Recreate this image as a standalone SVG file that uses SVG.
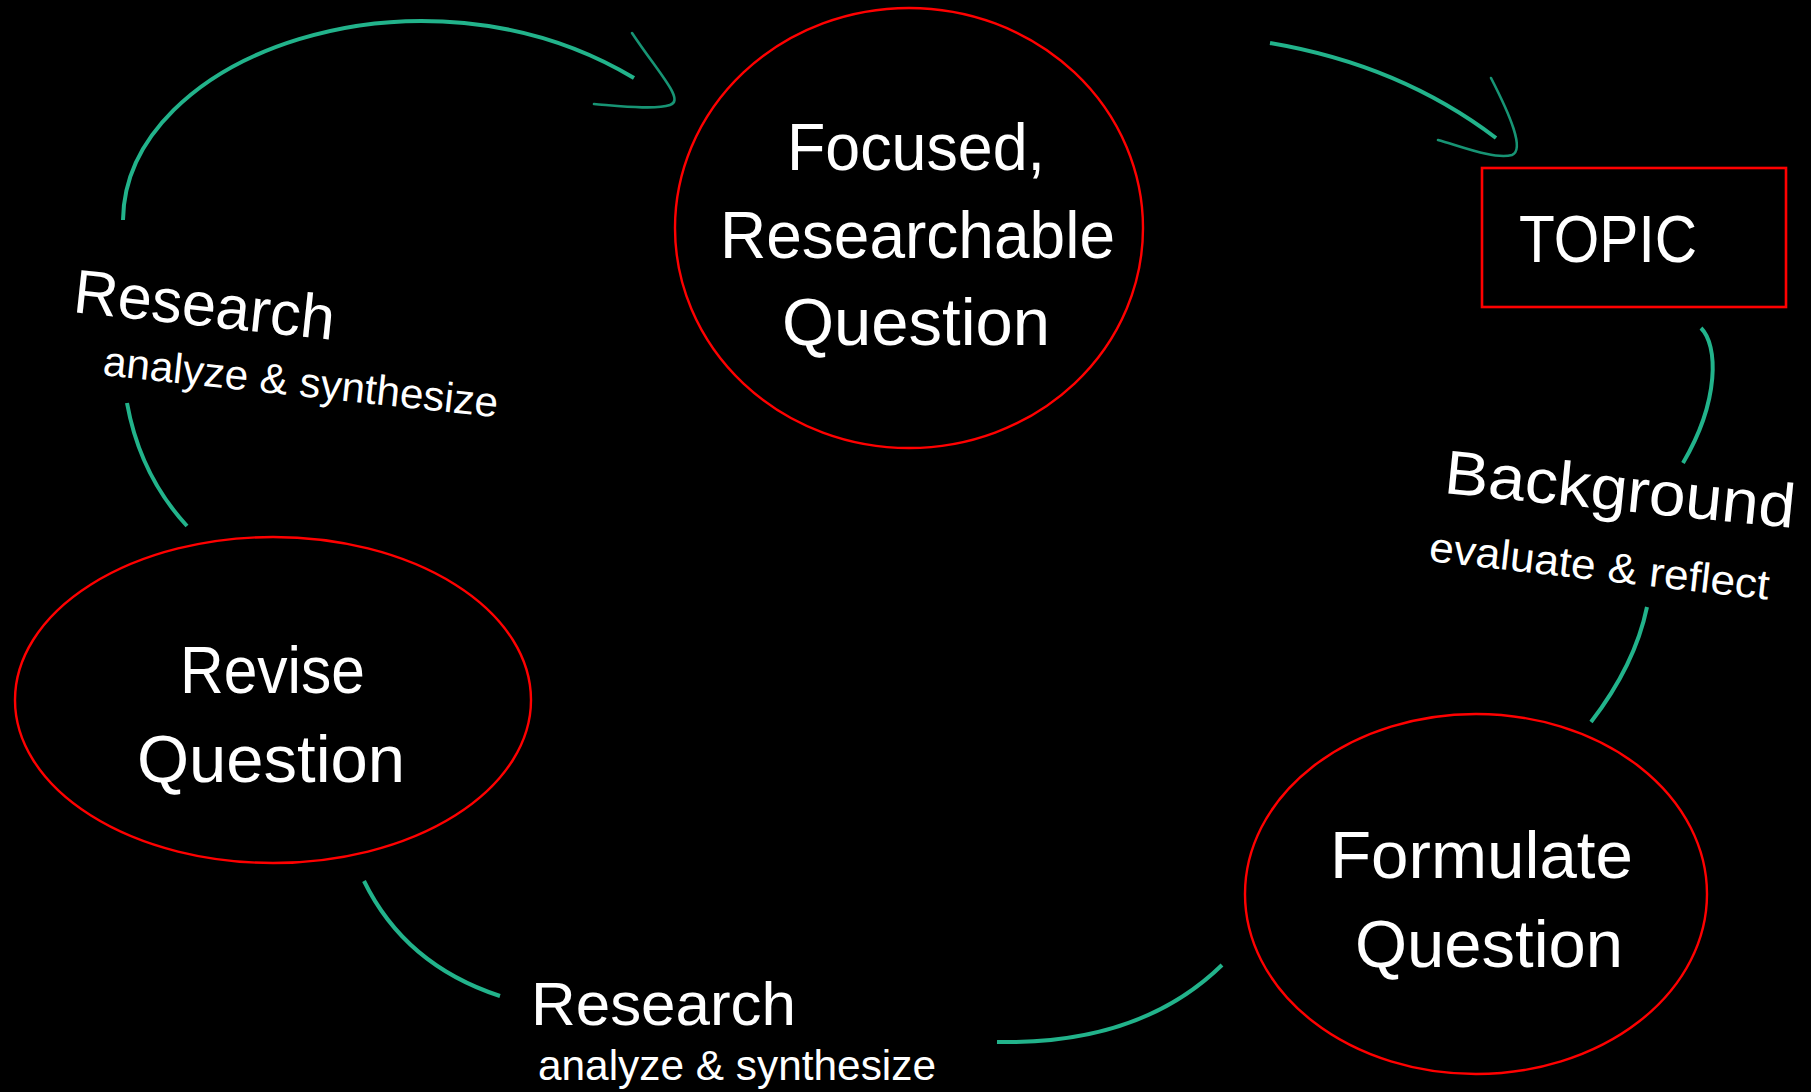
<svg xmlns="http://www.w3.org/2000/svg" width="1811" height="1092" viewBox="0 0 1811 1092">
<style>
.node{fill:#000;stroke:#ff0000;stroke-width:2.4}
.t{fill:#fff;font-family:"Liberation Sans",Arial,sans-serif}
.big{font-size:66px}
.lab{font-size:62px}
.sub{font-size:42px}
.arc{fill:none;stroke:#22b38b;stroke-width:4;stroke-linecap:butt}
.head{fill:none;stroke:#179474;stroke-width:2.6;stroke-linecap:round}
</style>
<rect x="0" y="0" width="1811" height="1092" fill="#000"/>
<g id="connectors">
<path class="arc" d="M123,220 C125,55 420,-50 634,78"/>
<path class="head" d="M632,33 C660,75 685,100 670,105 C655,110 620,106 594,104"/>
<path class="arc" d="M1270,43 Q1400,65 1496,138"/>
<path class="head" d="M1491,78 C1510,115 1525,150 1512,155 C1495,160 1460,146 1438,140"/>
<path class="arc" d="M1701,328 C1718,345 1720,400 1683,463"/>
<path class="arc" d="M1647,607 Q1635,665 1591,722"/>
<path class="arc" d="M997,1042 Q1140,1045 1222,965"/>
<path class="arc" d="M500,996 Q405,965 364,881"/>
<path class="arc" d="M187,526 Q140,475 127,403"/>
</g>
<g id="node-focused">
<ellipse class="node" cx="909" cy="228" rx="234" ry="220"/>
<text class="t big" x="787" y="170" textLength="258" lengthAdjust="spacingAndGlyphs">Focused,</text>
<text class="t big" x="720" y="258" textLength="395" lengthAdjust="spacingAndGlyphs">Researchable</text>
<text class="t big" x="782" y="345" textLength="268" lengthAdjust="spacingAndGlyphs">Question</text>
</g>
<g id="node-topic">
<rect x="1482" y="168" width="304" height="139" fill="#000" stroke="#ff0000" stroke-width="2.6"/>
<text class="t big" x="1519" y="262" textLength="178" lengthAdjust="spacingAndGlyphs">TOPIC</text>
</g>
<g id="node-formulate">
<ellipse class="node" cx="1476" cy="894" rx="231" ry="180"/>
<text class="t big" x="1330" y="878" textLength="303" lengthAdjust="spacingAndGlyphs">Formulate</text>
<text class="t big" x="1355" y="967" textLength="268" lengthAdjust="spacingAndGlyphs">Question</text>
</g>
<g id="node-revise">
<ellipse class="node" cx="273" cy="700" rx="258" ry="163"/>
<text class="t big" x="180" y="693" textLength="185" lengthAdjust="spacingAndGlyphs">Revise</text>
<text class="t big" x="137" y="782" textLength="268" lengthAdjust="spacingAndGlyphs">Question</text>
</g>
<g id="labels">
<text class="t lab" transform="translate(72,312) rotate(6.1)" textLength="262" lengthAdjust="spacingAndGlyphs">Research</text>
<text class="t sub" transform="translate(102,375) rotate(6.1)" textLength="397" lengthAdjust="spacingAndGlyphs">analyze &amp; synthesize</text>
<text class="t lab" transform="translate(1443,493) rotate(5.7)" textLength="352" lengthAdjust="spacingAndGlyphs">Background</text>
<text class="t sub" transform="translate(1428,561) rotate(6.5)" textLength="342" lengthAdjust="spacingAndGlyphs">evaluate &amp; reflect</text>
<text class="t lab" x="531" y="1025" textLength="265" lengthAdjust="spacingAndGlyphs">Research</text>
<text class="t sub" x="538" y="1080" textLength="398" lengthAdjust="spacingAndGlyphs">analyze &amp; synthesize</text>
</g>
</svg>
